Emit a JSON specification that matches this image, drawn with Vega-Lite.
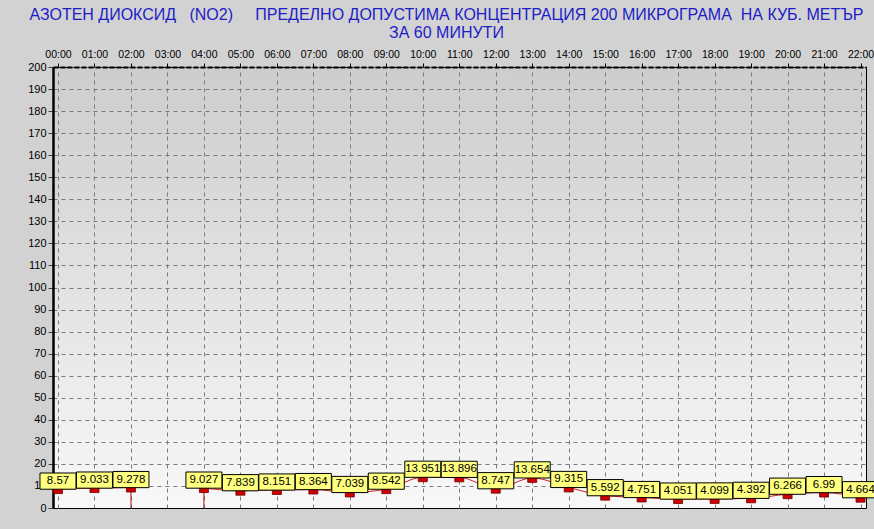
{
  "$schema": "https://vega.github.io/schema/vega-lite/v6.json",
  "width": 813,
  "height": 441,
  "autosize": {"type": "none"},
  "padding": {"left": 53, "top": 67, "right": 8, "bottom": 21},
  "background": "#d2d2d2",
  "config": {
    "view": {
      "fill": {"gradient": "linear", "x1": 0, "y1": 0, "x2": 0, "y2": 1, "stops": [{"offset": 0, "color": "#cdcdcd"}, {"offset": 1, "color": "#f8f8f8"}]},
      "stroke": "black",
      "strokeWidth": 1
    }
  },
  "title": {
    "text": ["АЗОТЕН ДИОКСИД\u00a0\u00a0\u00a0(NO2)\u00a0\u00a0\u00a0\u00a0\u00a0ПРЕДЕЛНО ДОПУСТИМА КОНЦЕНТРАЦИЯ 200 МИКРОГРАМА\u00a0\u00a0НА КУБ. МЕТЪР", "ЗА 60 МИНУТИ"],
    "font": "Liberation Sans",
    "fontSize": 16,
    "fontWeight": "normal",
    "color": "#1c1cc8",
    "anchor": "middle",
    "frame": "group",
    "lineHeight": 18,
    "offset": 8,
    "dx": -13
  },
  "data": {
    "values": [
      {"h": 0, "v": 8.57},
      {"h": 1, "v": 9.033},
      {"h": 2, "v": 9.278},
      {"h": 3, "v": null},
      {"h": 4, "v": 9.027},
      {"h": 5, "v": 7.839},
      {"h": 6, "v": 8.151},
      {"h": 7, "v": 8.364},
      {"h": 8, "v": 7.039},
      {"h": 9, "v": 8.542},
      {"h": 10, "v": 13.951},
      {"h": 11, "v": 13.896},
      {"h": 12, "v": 8.747},
      {"h": 13, "v": 13.654},
      {"h": 14, "v": 9.315},
      {"h": 15, "v": 5.592},
      {"h": 16, "v": 4.751},
      {"h": 17, "v": 4.051},
      {"h": 18, "v": 4.099},
      {"h": 19, "v": 4.392},
      {"h": 20, "v": 6.266},
      {"h": 21, "v": 6.99},
      {"h": 22, "v": 4.664}
    ]
  },
  "encoding": {
    "x": {
      "field": "h",
      "type": "quantitative",
      "scale": {"domain": [-0.137, 22.15], "nice": false, "zero": false},
      "axis": {
        "orient": "top",
        "title": null,
        "values": [0,1,2,3,4,5,6,7,8,9,10,11,12,13,14,15,16,17,18,19,20,21,22],
        "labelExpr": "(datum.value < 10 ? '0' : '') + datum.value + ':00'",
        "labelFont": "Liberation Sans",
        "labelFontSize": 10.5,
        "labelColor": "black",
        "labelPadding": 4,
        "labelFlush": false,
        "labelOverlap": false,
        "tickColor": "black",
        "tickSize": 4,
        "domainColor": "black",
        "domainWidth": 2,
        "domainDash": [5, 2],
        "grid": true,
        "gridColor": "#7a7a7a",
        "gridDash": [4, 4],
        "gridWidth": 1
      }
    },
    "y": {
      "field": "v",
      "type": "quantitative",
      "scale": {"domain": [0, 200], "nice": false},
      "axis": {
        "title": null,
        "values": [0,10,20,30,40,50,60,70,80,90,100,110,120,130,140,150,160,170,180,190,200],
        "labelFont": "Liberation Sans",
        "labelFontSize": 11,
        "labelColor": "black",
        "labelPadding": 2,
        "labelOverlap": false,
        "tickColor": "#404040",
        "tickSize": 5,
        "domainColor": "black",
        "domainWidth": 2.5,
        "grid": true,
        "gridColor": {"condition": {"test": "datum.value === 0", "value": "black"}, "value": "#7a7a7a"},
        "gridDash": [4, 4],
        "gridWidth": 1
      }
    }
  },
  "layer": [
    {
      "mark": {"type": "line", "interpolate": "monotone", "color": "#d42020", "strokeWidth": 1, "invalid": "break-paths-show-domains"}
    },
    {
      "transform": [{"filter": "datum.h == 2 || datum.h == 4"}],
      "mark": {"type": "rule", "color": "#b01010", "strokeWidth": 1},
      "encoding": {"y2": {"datum": 0}}
    },
    {
      "transform": [{"filter": "datum.v != null"}],
      "mark": {"type": "point", "shape": "M-1,-0.55H1V0.55H-1Z", "size": 81, "filled": true, "fill": "#d00000", "stroke": "#700000", "strokeWidth": 0.8, "opacity": 1, "yOffset": 2}
    },
    {
      "transform": [{"filter": "datum.v != null"}],
      "mark": {"type": "point", "shape": "M-1,-0.45H1V0.45H-1Z", "size": 1296, "filled": true, "fill": "#ffff80", "stroke": "black", "strokeWidth": 1, "opacity": 1, "yOffset": -8}
    },
    {
      "transform": [{"filter": "datum.v != null"}],
      "mark": {"type": "text", "font": "Liberation Sans", "fontSize": 11.5, "yOffset": -8, "baseline": "middle", "align": "center", "color": "black"},
      "encoding": {"text": {"field": "v", "type": "nominal"}}
    }
  ]
}
